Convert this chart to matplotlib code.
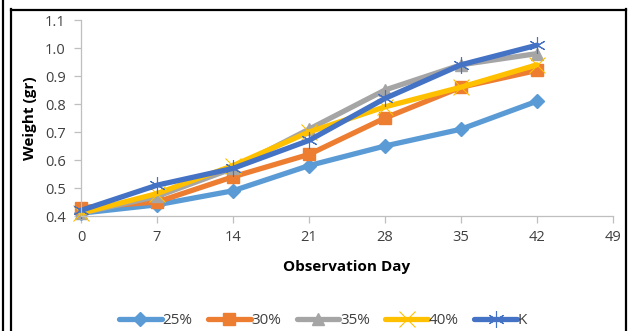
import matplotlib
matplotlib.use("Agg")
import matplotlib.pyplot as plt
from matplotlib.lines import Line2D

days = [0, 7, 14, 21, 28, 35, 42]
series_names = ["25%", "30%", "35%", "40%", "K"]
w25 = [0.41, 0.44, 0.49, 0.58, 0.65, 0.71, 0.81]
w30 = [0.43, 0.45, 0.54, 0.62, 0.75, 0.86, 0.92]
w35 = [0.41, 0.47, 0.57, 0.71, 0.85, 0.94, 0.98]
w40 = [0.41, 0.48, 0.58, 0.70, 0.79, 0.86, 0.94]
wK = [0.42, 0.51, 0.57, 0.67, 0.82, 0.94, 1.01]
x_ticks = [0, 7, 14, 21, 28, 35, 42, 49]
y_ticks = [0.4, 0.5, 0.6, 0.7, 0.8, 0.9, 1.0, 1.1]

colors = ["#5B9BD5", "#ED7D31", "#A5A5A5", "#FFC000", "#4472C4"]
markers = ["D", "s", "^", "x", (6, 2, 0)]
msizes = [7.5, 8.5, 8.5, 11, 12]

plt.rcParams['font.family'] = ['Open Sans', 'DejaVu Sans']

fig = plt.figure(figsize=(6.32, 3.31), dpi=100)
ax = fig.add_axes([81 / 632, 1 - 216 / 331, 532 / 632, 196 / 331])

for vals, name, c, m, ms in zip([w25, w30, w35, w40, wK], series_names, colors, markers, msizes):
    thin = m in ("x", (6, 2, 0))
    ax.plot(days, vals, color=c, lw=3.8, marker=m, ms=ms, mec=c,
            mew=0.8 if thin else 1.0, label=name, solid_capstyle="round")

ax.set_xlim(0, 49)
ax.set_ylim(0.4, 1.1)
ax.set_xticks(x_ticks)
ax.set_yticks(y_ticks)
ax.set_yticklabels([f"{v:.1f}" for v in y_ticks])
for s in ["top", "right"]:
    ax.spines[s].set_visible(False)
for s in ["left", "bottom"]:
    ax.spines[s].set_color("#BFBFBF")
    ax.spines[s].set_linewidth(0.9)
ax.tick_params(axis="both", colors="#BFBFBF", labelcolor="#404040", labelsize=10.5,
               length=5, width=0.9)
ax.tick_params(axis="x", pad=5)
ax.tick_params(axis="y", pad=6)

ax.set_xlabel("Observation Day", fontsize=11, fontweight="bold", labelpad=11)
ax.set_ylabel("Weight (gr)", fontsize=11, fontweight="bold", labelpad=6)

for line in ax.get_lines():
    line.set_clip_on(False)

ax.legend(loc="center", bbox_to_anchor=(0.455, -0.535), ncol=5, frameon=False,
          fontsize=11, handlelength=2.8, handletextpad=0.05, columnspacing=1.0,
          labelcolor="#404040")

# page frame lines
k = dict(color="black", lw=1.6, transform=fig.transFigure, clip_on=False)
W, H = 632, 331
fig.add_artist(Line2D([2.5 / W, 2.5 / W], [0, 1], **k))
fig.add_artist(Line2D([11 / W, 11 / W], [0, 1 - 9 / H], **k))
fig.add_artist(Line2D([11 / W, 626 / W], [1 - 9.5 / H, 1 - 9.5 / H], **k))
fig.add_artist(Line2D([626 / W, 626 / W], [0, 1 - 9 / H], **k))

fig.savefig("out.png", dpi=100)
